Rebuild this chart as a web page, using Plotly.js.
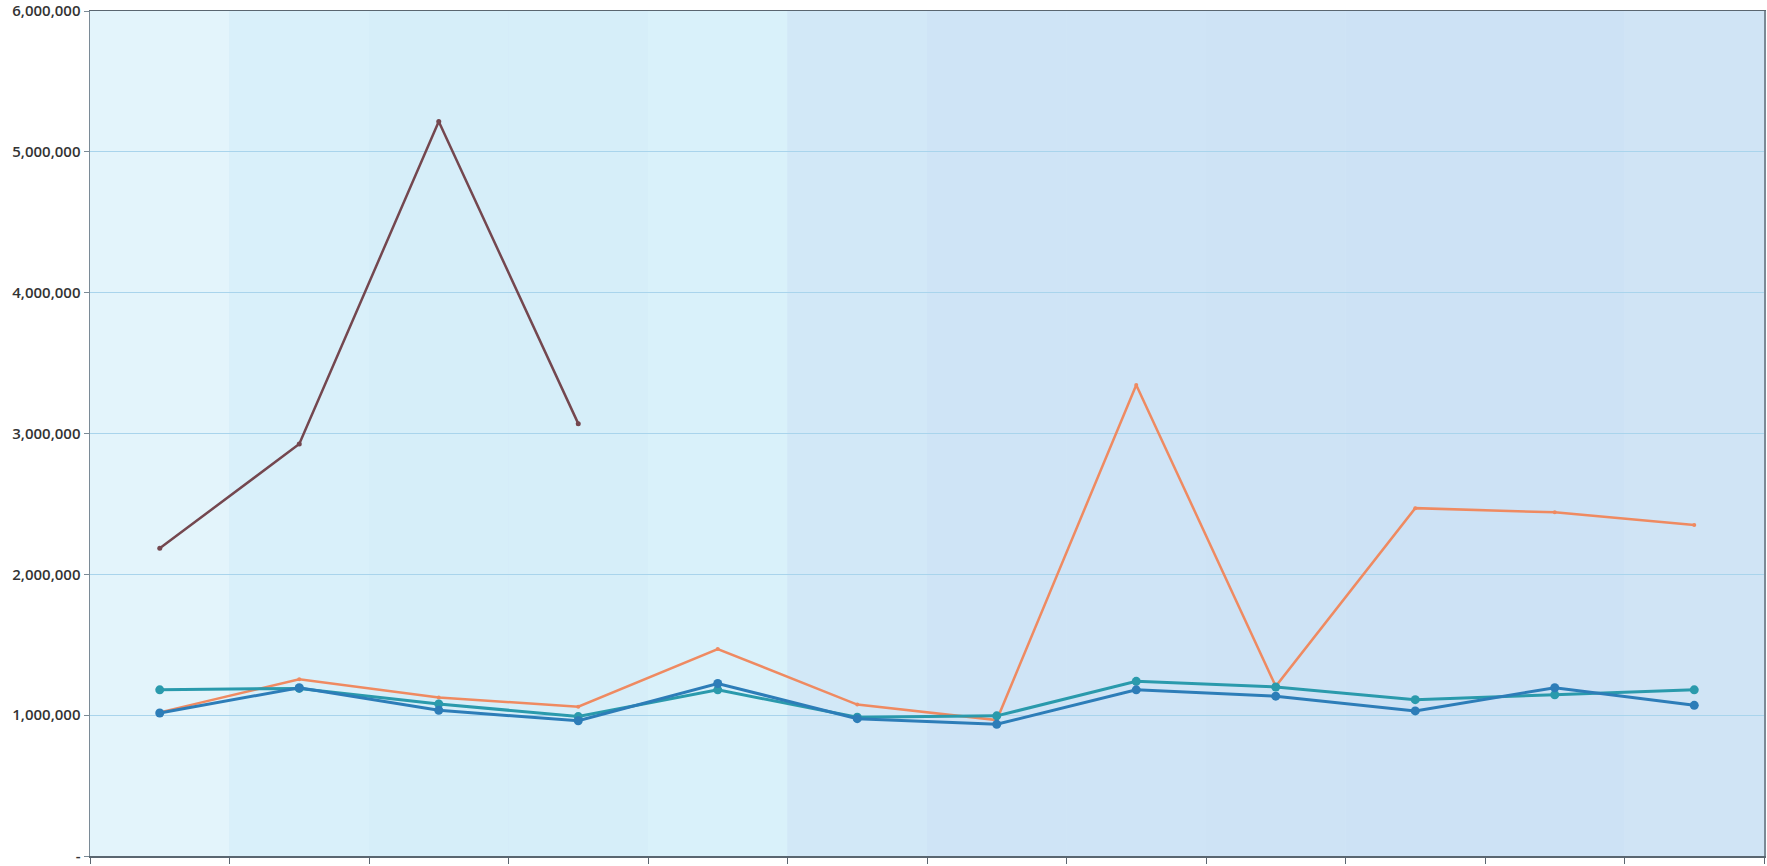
<!DOCTYPE html>
<html>
<head>
<meta charset="utf-8">
<script src="https://cdn.plot.ly/plotly-3.0.1.min.js"></script>
<style>
html,body{margin:0;padding:0;background:#ffffff;}
#chart{width:1767px;height:866px;}
</style>
</head>
<body>
<div id="chart"></div>
<script>
// Categories (x tick labels are cut off in the reference)
const categories = ["1","2","3","4","5","6","7","8","9","10","11","12"];

// Series values
const seriesDark   = [2185000, 2925000, 5215000, 3070000, null, null, null, null, null, null, null, null];
const seriesOrange = [1020000, 1255000, 1125000, 1060000, 1470000, 1075000, 965000, 3345000, 1205000, 2470000, 2440000, 2350000];
const seriesBlue   = [1015000, 1195000, 1035000, 960000, 1225000, 975000, 935000, 1180000, 1135000, 1030000, 1195000, 1070000];
const seriesTeal   = [1180000, 1190000, 1080000, 990000, 1180000, 985000, 995000, 1240000, 1200000, 1110000, 1145000, 1180000];

// Y tick labels
const yTickVals = [0, 1000000, 2000000, 3000000, 4000000, 5000000, 6000000];
const yTickText = ["-", "1,000,000", "2,000,000", "3,000,000", "4,000,000", "5,000,000", "6,000,000"];

const traces = [
  {x: categories, y: seriesOrange, type: 'scatter', mode: 'lines+markers',
   line: {color: '#ef8a61', width: 2.5}, marker: {color: '#ef8a61', size: 4}},
  {x: categories, y: seriesTeal, type: 'scatter', mode: 'lines+markers',
   line: {color: '#2a9aac', width: 3}, marker: {color: '#2a9aac', size: 9}},
  {x: categories, y: seriesBlue, type: 'scatter', mode: 'lines+markers',
   line: {color: '#2d7db8', width: 3}, marker: {color: '#2d7db8', size: 9}},
  {x: categories, y: seriesDark, type: 'scatter', mode: 'lines+markers',
   line: {color: '#74474f', width: 2.5}, marker: {color: '#74474f', size: 5}}
];

// background strips imitating the light gradient of the scanned chart
const stripColors = ['#e3f4fb','#d9f0fa','#d6eef9','#d6eef9','#d9f1fa','#d2e8f7','#cfe4f6','#cfe4f6','#cee3f5','#cde2f5','#cde2f5','#d0e4f5'];
const shapes = stripColors.map((c, i) => ({
  type: 'rect', xref: 'paper', yref: 'paper', layer: 'below',
  x0: i / stripColors.length, x1: (i + 1) / stripColors.length, y0: 0, y1: 1,
  fillcolor: c, line: {width: 0}
}));

const layout = {
  width: 1767, height: 866,
  margin: {l: 90, r: 3, t: 11, b: 10},
  paper_bgcolor: '#ffffff',
  plot_bgcolor: '#d2e8f7',
  showlegend: false,
  shapes: shapes,
  font: {family: '"Open Sans", "Liberation Sans", sans-serif', color: '#3a3a3a'},
  xaxis: {
    type: 'category',
    range: [-0.5, categories.length - 0.5],
    showticklabels: false,
    showgrid: false,
    ticks: 'outside', ticklen: 6, tickcolor: '#5a6670',
    tickson: 'boundaries',
    showline: true, linecolor: '#5a6670', linewidth: 1.5,
    mirror: true,
    zeroline: false,
    fixedrange: true
  },
  yaxis: {
    range: [0, 6000000],
    tickvals: yTickVals, ticktext: yTickText,
    ticklabeloverflow: 'allow',
    tickfont: {size: 15, color: '#333333', family: '"Open Sans", sans-serif', weight: 600},
    showgrid: true, gridcolor: '#a9d4ec', gridwidth: 1.2,
    ticks: 'outside', ticklen: 5, tickcolor: '#7a8a96',
    showline: true, linecolor: '#7a8a96', linewidth: 1.5,
    mirror: true,
    zeroline: false,
    fixedrange: true
  }
};

Plotly.newPlot('chart', traces, layout, {displayModeBar: false, staticPlot: true});
</script>
</body>
</html>
